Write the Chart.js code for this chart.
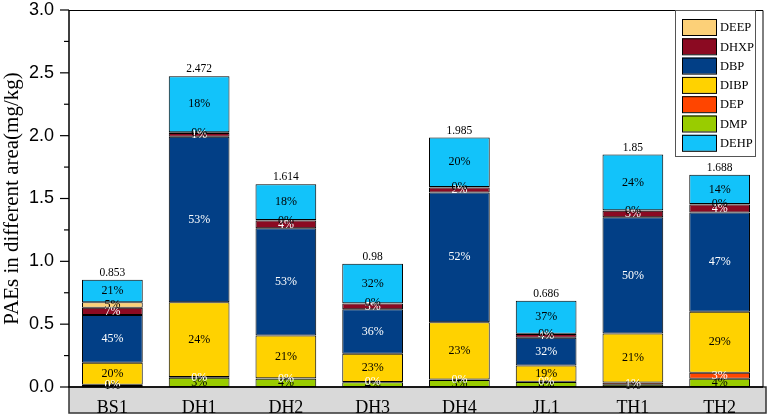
<!DOCTYPE html>
<html>
<head>
<meta charset="utf-8">
<script src="https://cdn.jsdelivr.net/npm/chart.js@4.4.0/dist/chart.umd.min.js"></script>
<style>
  body { margin: 0; background: #fff; }
  #wrap { width: 768px; height: 415px; }
</style>
</head>
<body>
<div id="wrap"><canvas id="myChart"></canvas></div>
<script>
// sampling areas and total PAEs (mg/kg)
const areas  = ['BS1', 'DH1', 'DH2', 'DH3', 'DH4', 'JL1', 'TH1', 'TH2'];
const totals = [0.853, 2.472, 1.614, 0.98, 1.985, 0.686, 1.85, 1.688];

// component amounts, stacked bottom -> top
const dmp  = [0.015, 0.074, 0.065, 0.037, 0.055, 0.040, 0.018, 0.065];
const dep  = [0.003, 0.005, 0.004, 0.003, 0.004, 0.002, 0.018, 0.048];
const dibp = [0.175, 0.595, 0.340, 0.225, 0.457, 0.130, 0.389, 0.485];
const dbp  = [0.380, 1.318, 0.855, 0.353, 1.032, 0.220, 0.925, 0.790];
const dhxp = [0.058, 0.030, 0.060, 0.047, 0.040, 0.030, 0.052, 0.065];
const deep = [0.043, 0.005, 0.004, 0.002, 0.003, 0.002, 0.004, 0.003];
const dehp = [0.179, 0.445, 0.286, 0.313, 0.394, 0.262, 0.444, 0.232];

// percentage labels printed on the segments
const dmpPct  = [1, 3, 4, 4, 3, 6, 1, 4];
const depPct  = [0, 0, 0, 0, 0, 0, 1, 3];
const dibpPct = [20, 24, 21, 23, 23, 19, 21, 29];
const dbpPct  = [45, 53, 53, 36, 52, 32, 50, 47];
const dhxpPct = [7, 1, 4, 5, 2, 4, 3, 4];
const deepPct = [5, 0, 0, 0, 0, 0, 0, 0];
const dehpPct = [21, 18, 18, 32, 20, 37, 24, 14];

const legendOrder = ['DEEP', 'DHXP', 'DBP', 'DIBP', 'DEP', 'DMP', 'DEHP'];

const serif = 'Liberation Serif';
const sans = 'Liberation Sans';

function ds(label, data, pct, color, txt) {
  return {
    label: label, data: data, pct: pct, txtColor: txt,
    backgroundColor: color, borderColor: '#000', borderWidth: 1, borderSkipped: false,
    barPercentage: 0.70, categoryPercentage: 1.0
  };
}

const extras = {
  id: 'extras',
  beforeDraw(chart) {
    const ctx = chart.ctx, ca = chart.chartArea, xs = chart.scales.x;
    ctx.save();
    ctx.fillStyle = '#fff';
    ctx.fillRect(0, 0, chart.width, chart.height);
    // grey band behind the category names
    ctx.fillStyle = '#d9d9d9';
    ctx.fillRect(ca.left, xs.top, chart.width - 2 - ca.left, xs.bottom - xs.top);
    ctx.strokeStyle = '#333';
    ctx.lineWidth = 1.5;
    ctx.strokeRect(ca.left, xs.top, chart.width - 2 - ca.left, xs.bottom - xs.top);
    ctx.restore();
  },
  afterDatasetsDraw(chart) {
    const ctx = chart.ctx;
    ctx.save();
    ctx.textAlign = 'center';
    ctx.textBaseline = 'middle';
    ctx.font = '12px "' + serif + '"';
    chart.data.datasets.forEach((d, i) => {
      const meta = chart.getDatasetMeta(i);
      meta.data.forEach((el, j) => {
        const p = el.getProps(['x', 'y', 'base'], true);
        ctx.fillStyle = d.txtColor;
        ctx.fillText(d.pct[j] + '%', p.x, (p.y + p.base) / 2);
      });
    });
    // totals above each stack
    const top = chart.getDatasetMeta(chart.data.datasets.length - 1);
    ctx.fillStyle = '#000';
    ctx.font = '11.5px "' + serif + '"';
    top.data.forEach((el, j) => {
      const p = el.getProps(['x', 'y'], true);
      ctx.fillText(String(totals[j]), p.x, p.y - 7);
    });
    ctx.restore();
  },
  afterDraw(chart) {
    const ctx = chart.ctx, ca = chart.chartArea, ys = chart.scales.y;
    ctx.save();
    ctx.strokeStyle = '#000';
    // frame
    ctx.lineWidth = 1;
    ctx.beginPath();
    ctx.moveTo(ca.left, ca.top + 0.5);
    ctx.lineTo(ca.right, ca.top + 0.5);
    ctx.lineTo(ca.right, ca.bottom);
    ctx.stroke();
    ctx.lineWidth = 1.5;
    ctx.beginPath();
    ctx.moveTo(ca.left, ca.top);
    ctx.lineTo(ca.left, ca.bottom);
    ctx.lineTo(ca.right, ca.bottom);
    ctx.stroke();
    // major + minor ticks pointing out
    ctx.lineWidth = 1.2;
    const tv = ys.ticks.map(t => t.value);
    tv.forEach((v, k) => {
      const py = ys.getPixelForValue(v);
      ctx.beginPath();
      ctx.moveTo(ca.left - 9, py);
      ctx.lineTo(ca.left, py);
      ctx.stroke();
      if (k < tv.length - 1) {
        const my = ys.getPixelForValue((v + tv[k + 1]) / 2);
        ctx.beginPath();
        ctx.moveTo(ca.left - 5, my);
        ctx.lineTo(ca.left, my);
        ctx.stroke();
      }
    });
    // legend box
    const lx = ca.right - 88, lyTop = ca.top, lw = 80, lh = 146;
    ctx.fillStyle = '#fff';
    ctx.fillRect(lx, lyTop, lw, lh);
    ctx.lineWidth = 1;
    ctx.strokeStyle = '#555';
    ctx.strokeRect(lx + 0.5, lyTop + 0.5, lw, lh);
    ctx.font = '12.5px "' + serif + '"';
    ctx.textAlign = 'left';
    ctx.textBaseline = 'middle';
    legendOrder.forEach((name, k) => {
      const d = chart.data.datasets.find(s => s.label === name);
      const cy = lyTop + 17 + k * 19.3;
      ctx.fillStyle = d.backgroundColor;
      ctx.fillRect(lx + 7, cy - 8, 34, 16);
      ctx.strokeStyle = '#000';
      ctx.strokeRect(lx + 7.5, cy - 7.5, 34, 16);
      ctx.fillStyle = '#000';
      ctx.fillText(name, lx + 45, cy + 1);
    });
    ctx.restore();
  }
};

const ctx = document.getElementById('myChart');

new Chart(ctx, {
  type: 'bar',
  data: {
    labels: areas,
    datasets: [
      ds('DMP',  dmp,  dmpPct,  '#99cc00', '#000'),
      ds('DEP',  dep,  depPct,  '#ff4500', '#fff'),
      ds('DIBP', dibp, dibpPct, '#ffd200', '#000'),
      ds('DBP',  dbp,  dbpPct,  '#023f86', '#fff'),
      ds('DHXP', dhxp, dhxpPct, '#8b0a22', '#fff'),
      ds('DEEP', deep, deepPct, '#fcd078', '#000'),
      ds('DEHP', dehp, dehpPct, '#12c3fa', '#000')
    ]
  },
  plugins: [extras],
  options: {
    responsive: true,
    maintainAspectRatio: false,
    animation: false,
    layout: { padding: { left: 0, right: 5, top: 10, bottom: 2 } },
    plugins: {
      legend: { display: false },
      tooltip: { enabled: false }
    },
    scales: {
      x: {
        stacked: true,
        grid: { display: false },
        border: { display: false },
        ticks: { color: '#000', font: { family: serif, size: 18 }, padding: 2, maxRotation: 0 },
        afterFit: s => { s.height = 26; }
      },
      y: {
        stacked: true,
        min: 0,
        max: 3,
        grid: { display: false },
        border: { display: false },
        ticks: {
          stepSize: 0.5,
          color: '#000',
          padding: 7,
          font: { family: sans, size: 18 },
          callback: v => v.toFixed(1)
        },
        title: {
          display: true,
          text: 'PAEs in different area(mg/kg)',
          color: '#000',
          font: { family: serif, size: 21 },
          padding: { top: 0, bottom: 0 }
        },
        afterFit: s => { s.width = 69; s.paddingTop = 0; s.paddingBottom = 0; }
      }
    }
  }
});
</script>
</body>
</html>
